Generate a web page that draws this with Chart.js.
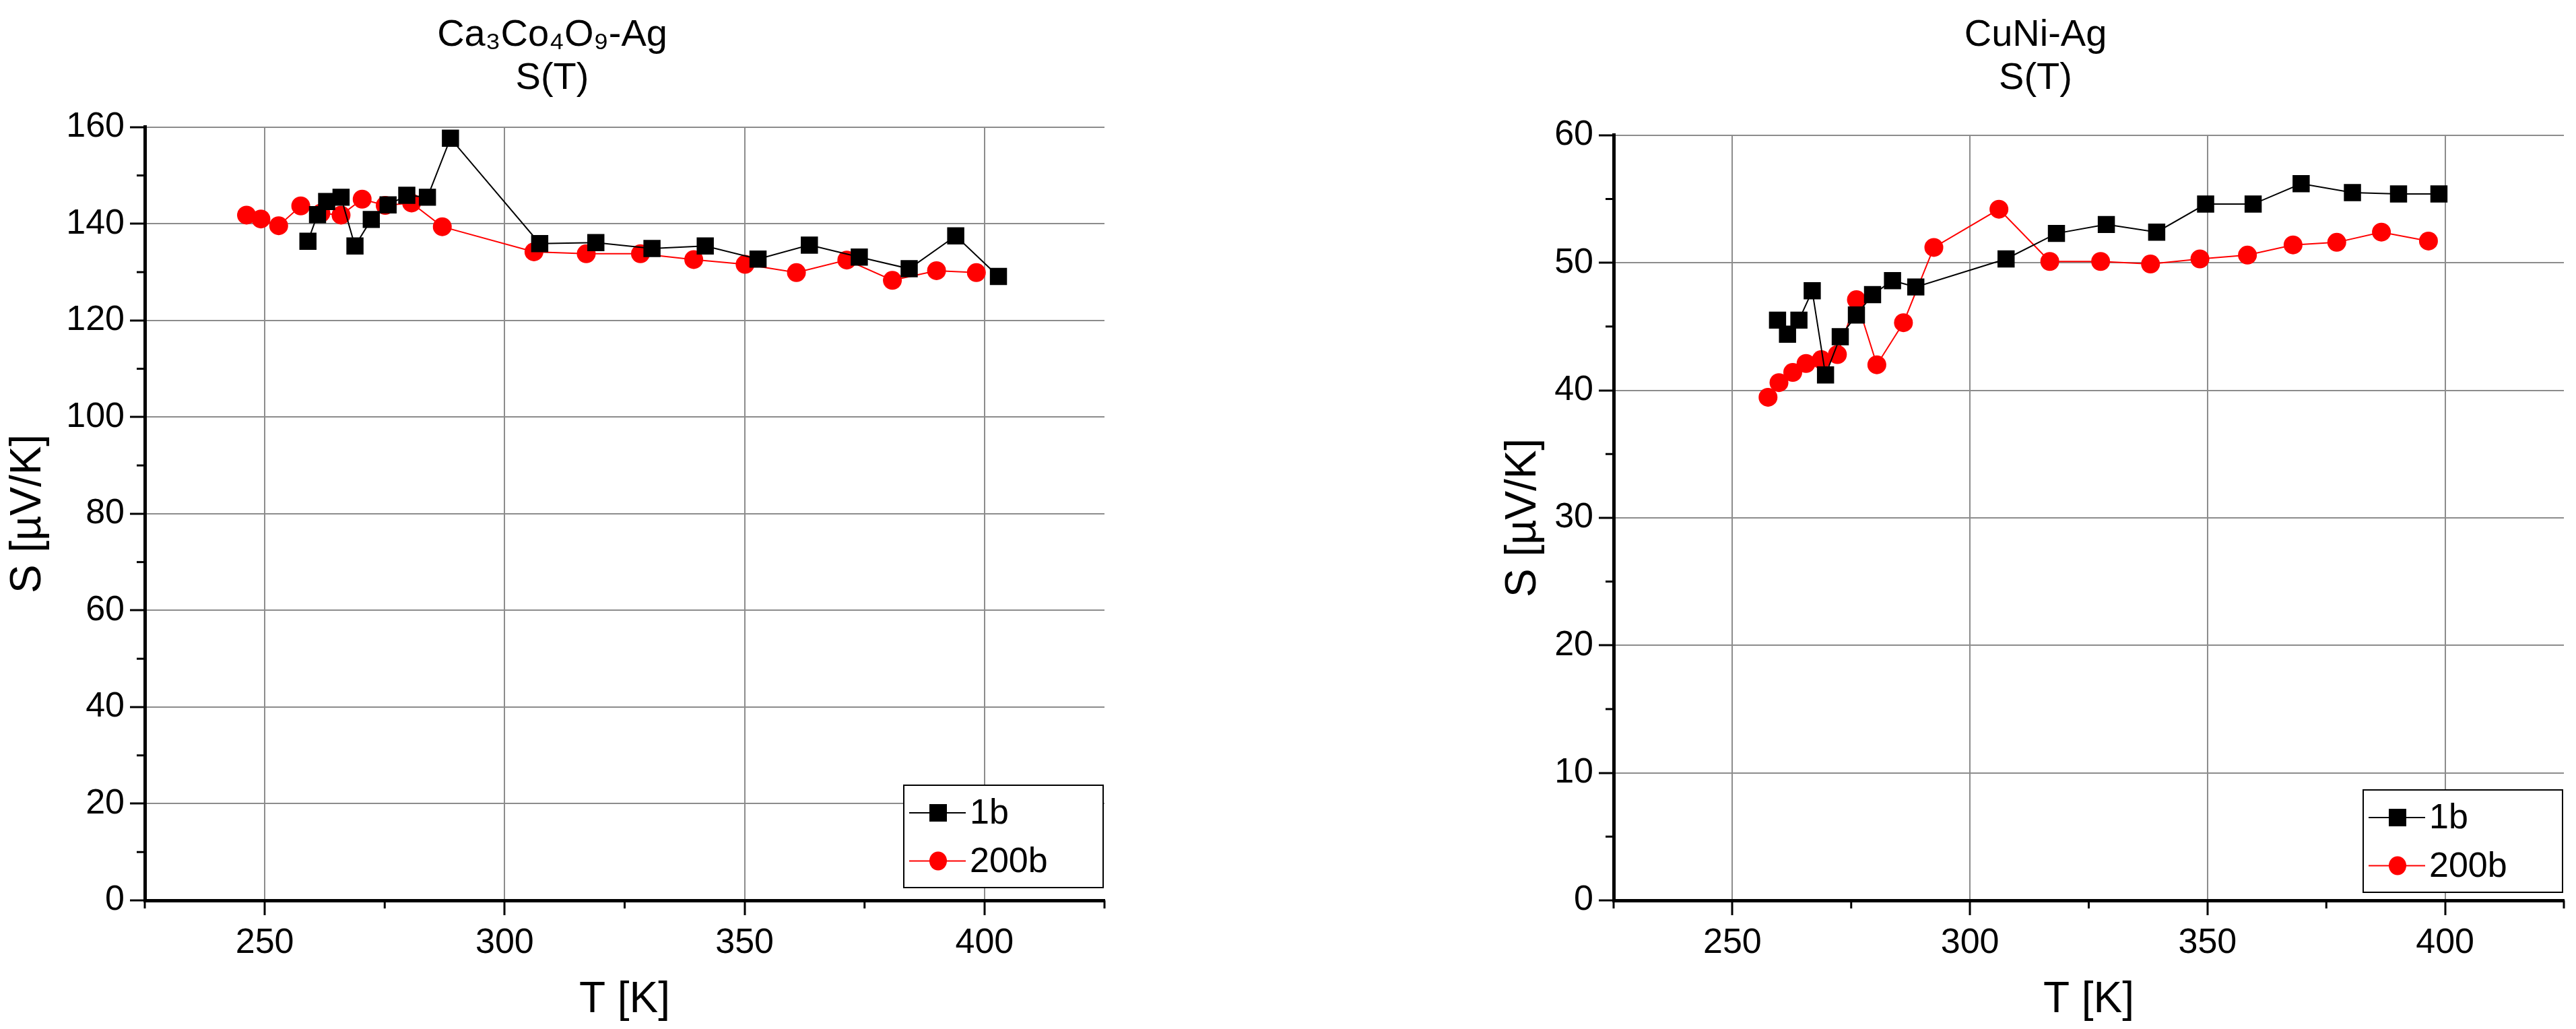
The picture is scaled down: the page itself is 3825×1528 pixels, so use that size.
<!DOCTYPE html>
<html><head><meta charset="utf-8">
<script src="https://cdn.jsdelivr.net/npm/chart.js@4.4.1/dist/chart.umd.min.js"></script>
<style>
html,body{margin:0;padding:0;background:#fff;width:3825px;height:1528px;overflow:hidden}
.c{position:absolute;top:0;height:1528px}
</style></head><body>
<div class="c" style="left:0;width:1680px"><canvas id="a"></canvas></div>
<div class="c" style="left:2220px;width:1605px"><canvas id="b"></canvas></div>
<script>
// ---- data ----
const caT1 = [259.0,261.0,262.9,265.9,268.8,272.2,275.7,279.6,283.9,288.7,307.3,319.0,330.7,341.8,352.8,363.5,373.9,384.3,394.0,402.9];
const caS1 = [136.4,141.9,144.6,145.5,135.4,140.9,143.9,145.9,145.5,157.7,135.9,136.1,134.9,135.4,132.7,135.6,133.1,130.7,137.5,129.1];
const caT200 = [246.2,249.2,252.9,257.5,261.7,265.9,270.3,275.1,280.6,287.0,306.1,317.0,328.3,339.4,350.1,360.8,371.3,380.8,390.0,398.3];
const caS200 = [141.8,141.0,139.6,143.7,142.2,141.8,145.1,143.8,144.3,139.4,134.2,133.8,133.8,132.6,131.6,129.9,132.5,128.3,130.3,129.9];
const cuT1 = [259.5,261.6,264.0,266.8,269.6,272.7,276.1,279.5,283.7,288.6,307.6,318.2,328.7,339.3,349.6,359.6,369.7,380.5,390.2,398.7];
const cuS1 = [45.5,44.4,45.5,47.8,41.2,44.2,45.9,47.5,48.6,48.1,50.3,52.3,53.0,52.4,54.6,54.6,56.2,55.5,55.4,55.4];
const cuT200 = [257.5,259.8,262.7,265.5,268.7,272.1,276.1,280.4,286.0,292.4,306.1,316.8,327.5,338.0,348.4,358.4,368.0,377.2,386.6,396.5];
const cuS200 = [39.45,40.6,41.4,42.1,42.4,42.8,47.1,42.0,45.3,51.2,54.2,50.1,50.1,49.9,50.3,50.6,51.4,51.6,52.4,51.7];
const xTicks = [250,300,350,400];
const caYTicks = [0,20,40,60,80,100,120,140,160];
const cuYTicks = [0,10,20,30,40,50,60];
const seriesNames = ['1b','200b'];
const titlesCa = ['Ca\u2083Co\u2084O\u2089-Ag','S(T)'];
const titlesCu = ['CuNi-Ag','S(T)'];

const FONT = '"Liberation Sans", Arial, sans-serif';
const pts = (xs, ys) => xs.map((x,i)=>({x, y: ys[i]}));

const minorPlugin = {
  id:'minor',
  afterDraw(chart){
    const ctx = chart.ctx;
    ctx.save(); ctx.strokeStyle='#000'; ctx.lineWidth=3;
    const x = chart.scales.x, y = chart.scales.y;
    const xm = chart.options.plugins.minor.x, ym = chart.options.plugins.minor.y;
    xm.forEach(v=>{const p=x.getPixelForValue(v); ctx.beginPath(); ctx.moveTo(p,x.top); ctx.lineTo(p,x.top+12); ctx.stroke();});
    ym.forEach(v=>{const p=y.getPixelForValue(v); ctx.beginPath(); ctx.moveTo(y.right,p); ctx.lineTo(y.right-12,p); ctx.stroke();});
    const lg = chart.options.plugins.minor.legend;
    const ca = chart.chartArea;
    const w=lg.w, h=lg.h, lx=ca.right-w-lg.r, ly=ca.bottom-h-lg.b;
    ctx.fillStyle='#fff'; ctx.fillRect(lx,ly,w,h);
    ctx.lineWidth=2; ctx.strokeStyle='#000'; ctx.strokeRect(lx,ly,w,h);
    chart.data.datasets.forEach((ds,i)=>{
      const cy = ly + h*(0.27+0.47*i);
      ctx.strokeStyle=ds.borderColor; ctx.lineWidth=2;
      ctx.beginPath(); ctx.moveTo(lx+8,cy); ctx.lineTo(lx+92,cy); ctx.stroke();
      ctx.fillStyle=ds.pointBackgroundColor;
      if(ds.pointStyle==='rect'){ctx.fillRect(lx+38,cy-13,26,26);} else {ctx.beginPath(); ctx.ellipse(lx+51,cy,13,14,0,0,Math.PI*2); ctx.fill();}
      ctx.fillStyle='#000'; ctx.font='52px '+FONT; ctx.textBaseline='middle';
      ctx.fillText(ds.label, lx+98, cy+2);
    });
    ctx.restore();
  }
};

function make(id, d1, d2, yTicks, yMax, yMinor, titles, yWidth, padRight, legend, titlePadBottom){
  new Chart(document.getElementById(id), {
    type:'scatter',
    data:{datasets:[
      {label:seriesNames[0], data:d1, showLine:true, borderColor:'#000', borderWidth:2, pointStyle:'rect', pointRadius:18, pointHoverRadius:18, pointBackgroundColor:'#000', pointBorderWidth:0},
      {label:seriesNames[1], data:d2, showLine:true, borderColor:'#ff0000', borderWidth:2, pointStyle:'circle', pointRadius:14, pointHoverRadius:14, pointBackgroundColor:'#ff0000', pointBorderWidth:0}
    ]},
    options:{
      responsive:true, maintainAspectRatio:false, animation:false, devicePixelRatio:1,
      layout:{padding:{right:padRight, top:0, left:0, bottom:0}},
      plugins:{
        legend:{display:false}, tooltip:{enabled:false},
        title:{display:true, text:titles, color:'#000', font:{family:FONT, size:56, weight:'normal', lineHeight:1.15}, padding:{top:20,bottom:titlePadBottom}},
        minor:{x:[225,275,325,375,425], y:yMinor, legend}
      },
      scales:{
        x:{type:'linear', min:225, max:425,
          afterBuildTicks:s=>{s.ticks = xTicks.map(v=>({value:v}));},
          afterFit:s=>{s.height=191;},
          grid:{color:'#8c8c8c', lineWidth:2, tickColor:'#000', tickWidth:3, tickLength:22, drawOnChartArea:true},
          border:{display:true, color:'#000', width:5},
          ticks:{color:'#000', font:{family:FONT, size:52}, padding:10},
          title:{display:true, text:'T [K]', color:'#000', font:{family:FONT, size:64}, padding:{top:14}}
        },
        y:{type:'linear', min:0, max:yMax,
          afterBuildTicks:s=>{s.ticks = yTicks.map(v=>({value:v}));},
          afterFit:s=>{s.width=yWidth;},
          grid:{color:'#8c8c8c', lineWidth:2, tickColor:'#000', tickWidth:3, tickLength:22},
          border:{display:true, color:'#000', width:5},
          ticks:{color:'#000', font:{family:FONT, size:52}, padding:8},
          title:{display:true, text:'S [\u00b5V/K]', color:'#000', font:{family:FONT, size:64}, padding:{bottom:4}}
        }
      }
    },
    plugins:[minorPlugin]
  });
}
make('a', pts(caT1,caS1), pts(caT200,caS200), caYTicks, 160, [10,30,50,70,90,110,130,150], titlesCa, 215, 40, {w:296,h:152,r:2,b:19}, 40);
make('b', pts(cuT1,cuS1), pts(cuT200,cuS200), cuYTicks, 60, [5,15,25,35,45,55], titlesCu, 176, 0, {w:296,h:152,r:2,b:12}, 52);
</script></body></html>
